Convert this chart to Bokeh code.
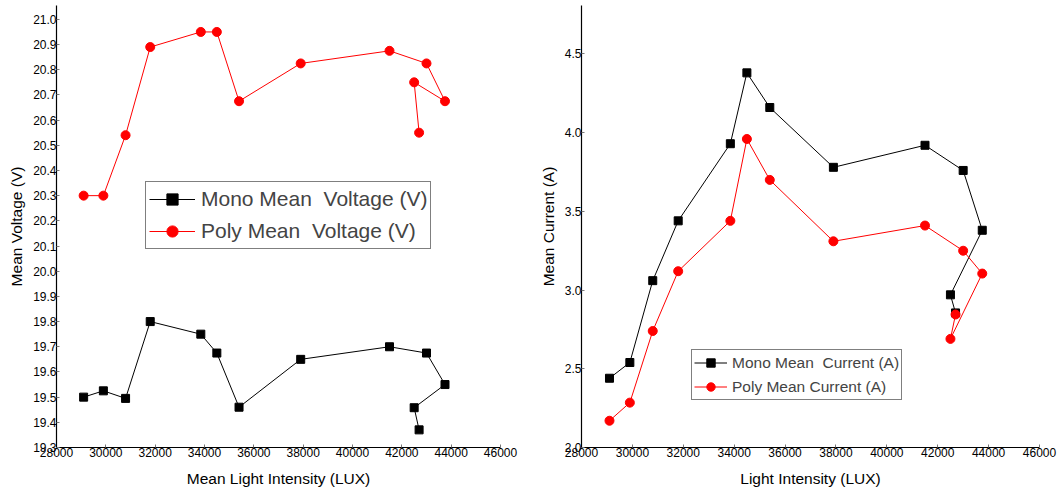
from bokeh.plotting import figure
from bokeh.layouts import row
from bokeh.models import FixedTicker, NumeralTickFormatter, Range1d, Legend, LegendItem
from bokeh.embed import file_html
from bokeh.resources import INLINE

# ---- data ----
lux = [29100, 29900, 30800, 31800, 33850, 34500, 35400, 37900, 41500, 43000, 43750, 42500, 42700]
mono_voltage = [19.50, 19.525, 19.495, 19.80, 19.75, 19.675, 19.46, 19.65, 19.70, 19.675, 19.55, 19.458, 19.37]
poly_voltage = [20.30, 20.30, 20.54, 20.89, 20.95, 20.95, 20.675, 20.825, 20.875, 20.825, 20.675, 20.75, 20.55]
mono_current = [2.44, 2.54, 3.06, 3.44, 3.93, 4.38, 4.16, 3.78, 3.92, 3.76, 3.38, 2.97, 2.855]
poly_current = [2.17, 2.285, 2.74, 3.12, 3.44, 3.96, 3.70, 3.31, 3.41, 3.25, 3.105, 2.69, 2.845]

x_ticks = [28000, 30000, 32000, 34000, 36000, 38000, 40000, 42000, 44000, 46000]
v_ticks = [19.3, 19.4, 19.5, 19.6, 19.7, 19.8, 19.9, 20.0, 20.1, 20.2, 20.3, 20.4, 20.5, 20.6, 20.7, 20.8, 20.9, 21.0]
c_ticks = [2.0, 2.5, 3.0, 3.5, 4.0, 4.5]

FONT = "Liberation Sans"


def style_axes(p, yticks, yfmt):
    p.xaxis.ticker = FixedTicker(ticks=x_ticks, minor_ticks=[])
    p.yaxis.ticker = FixedTicker(ticks=yticks, minor_ticks=[])
    p.xaxis.formatter = NumeralTickFormatter(format="0")
    p.yaxis.formatter = NumeralTickFormatter(format=yfmt)
    for ax in (p.xaxis[0], p.yaxis[0]):
        ax.axis_line_color = "black"
        ax.axis_line_width = 1.2
        ax.major_tick_in = 3
        ax.major_tick_out = 0
        ax.major_tick_line_color = "#777777"
        ax.minor_tick_line_color = None
        ax.major_label_text_font = FONT
        ax.major_label_text_font_size = "12px"
        ax.major_label_text_color = "black"
        ax.major_label_standoff = 0
        ax.axis_label_text_font = FONT
        ax.axis_label_text_font_size = "15.5px"
        ax.axis_label_text_font_style = "normal"
        ax.axis_label_text_color = "black"
    p.xaxis.axis_label_standoff = 10
    p.yaxis.axis_label_standoff = 5
    p.xgrid.visible = False
    p.ygrid.visible = False
    p.outline_line_color = None


# ---- left: voltage ----
p1 = figure(width=530, height=490, output_backend="svg", toolbar_location=None,
            x_range=Range1d(28000, 46000), y_range=Range1d(19.3, 21.055),
            min_border_left=56, min_border_right=30, min_border_top=5, min_border_bottom=43,
            x_axis_label="Mean Light Intensity (LUX)", y_axis_label="Mean Voltage (V)")
style_axes(p1, v_ticks, "0.0")
l1 = p1.line(lux, mono_voltage, line_color="black", line_width=1)
s1 = p1.scatter(lux, mono_voltage, marker="square", size=8, fill_color="black", line_color="black")
l2 = p1.line(lux, poly_voltage, line_color="#ff0000", line_width=1)
s2 = p1.scatter(lux, poly_voltage, marker="circle", size=9, fill_color="#ff0000", line_color="#ff0000")
leg1 = Legend(items=[LegendItem(label="Mono Mean  Voltage (V)", renderers=[l1, s1]),
                     LegendItem(label="Poly Mean  Voltage (V)", renderers=[l2, s2])],
              location=(89, 198), orientation="vertical",
              label_text_font=FONT, label_text_font_size="21px",
              glyph_width=46, glyph_height=28, label_height=28, label_standoff=6,
              spacing=4, padding=3, margin=0,
              border_line_color="black", border_line_width=1, background_fill_alpha=1)
p1.add_layout(leg1, "center")

# ---- right: current ----
p2 = figure(width=529, height=490, output_backend="svg", toolbar_location=None,
            x_range=Range1d(28000, 46000), y_range=Range1d(2.0, 4.808),
            min_border_left=51, min_border_right=20, min_border_top=5, min_border_bottom=43,
            x_axis_label="Light Intensity (LUX)", y_axis_label="Mean Current (A)")
style_axes(p2, c_ticks, "0.0")
m1 = p2.line(lux, mono_current, line_color="black", line_width=1)
m2 = p2.scatter(lux, mono_current, marker="square", size=8, fill_color="black", line_color="black")
n1 = p2.line(lux, poly_current, line_color="#ff0000", line_width=1)
n2 = p2.scatter(lux, poly_current, marker="circle", size=9, fill_color="#ff0000", line_color="#ff0000")
leg2 = Legend(items=[LegendItem(label="Mono Mean  Current (A)", renderers=[m1, m2]),
                     LegendItem(label="Poly Mean Current (A)", renderers=[n1, n2])],
              location=(110, 47), orientation="vertical",
              label_text_font=FONT, label_text_font_size="15.5px",
              glyph_width=33, glyph_height=21, label_height=21, label_standoff=5,
              spacing=3, padding=2, margin=0,
              border_line_color="black", border_line_width=1, background_fill_alpha=1)
p2.add_layout(leg2, "center")

layout = row(p1, p2)
open("out.html", "w").write(file_html(layout, INLINE))
